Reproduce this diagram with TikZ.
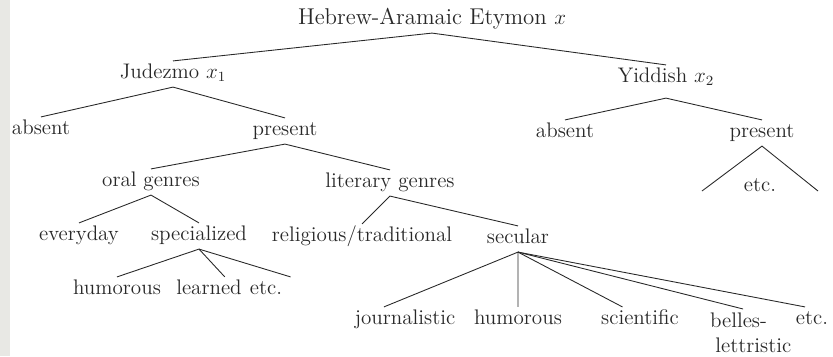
\documentclass[tikz,border=0pt]{standalone}
\usepackage{amsmath,amssymb}
\usepackage{xcolor}
\usepackage{tikz}
\usetikzlibrary{positioning,calc}
\definecolor{ink}{RGB}{40,40,40}
\definecolor{scan}{RGB}{232,232,228}

\begin{document}
\begin{tikzpicture}[x=0.02cm,y=-0.02cm,
  every node/.style={font=\fontsize{12}{14}\selectfont,text=ink,inner xsep=1pt,inner ysep=2pt,text height=8pt,text depth=2.5pt},
  branch/.style={draw=ink,line width=0.5pt}]
\useasboundingbox (0,0) rectangle (833,356);
\fill[scan] (0,0) rectangle (10,356);
% levels of the tree
\node[font=\fontsize{13}{15}\selectfont] (root) at (432,20) {Hebrew-Aramaic Etymon $x$};
\node (jud) at (173,74) {Judezmo $x_1$};
\node (yid) at (666,78) {Yiddish $x_2$};
\node (jabs) at (41,130) {absent};
\node (jpres) at (285,131) {present};
\node (yabs) at (565,133) {absent};
\node (ypres) at (762,133) {present};
\node (yetc) at (760,187) {etc.};
\coordinate (yl) at (702,191);
\coordinate (yr) at (818,191);
\node (oral) at (151,182) {oral genres};
\node (lit) at (390,183) {literary genres};
\node (every) at (79,236) {everyday};
\node (spec) at (199,236) {specialized};
\node (relig) at (362,237) {religious/traditional};
\node (sec) at (518,239) {secular};
\node (hum) at (117,290) {humorous};
\node (lrn) at (209,290) {learned};
\node (setc) at (266,290) {etc.};
\node (jour) at (405,320) {journalistic};
\node (shum) at (518,320) {humorous};
\node (sci) at (640,320) {scientific};
\node[anchor=north west,align=left,text height=,text depth=] (bel) at (708,309) {belles-\\\hspace{3pt}lettristic};
\node (secetc) at (812,320) {etc.};
% branches
\draw[branch] (jud.north) -- (root.south) -- (yid.north);
\draw[branch] (jabs.north) -- (jud.south) -- (jpres.north);
\draw[branch] (yabs.north) -- ([yshift=-4]yid.south) -- (ypres.north);
\draw[branch] (yl) -- (ypres.south) -- (yr);
\draw[branch] (oral.north) -- (jpres.south) -- (lit.north);
\draw[branch] (every.north) -- (oral.south) -- (spec.north);
\draw[branch] (relig.north) -- (lit.south) -- (sec.north);
\draw[branch] (hum.north) -- (spec.south) -- ([xshift=9]lrn.north);
\draw[branch] (spec.south) -- ([xshift=14]setc.north);
\draw[branch] ([xshift=-12]jour.north) -- (sec.south) -- (shum.north);
\draw[branch] (sec.south) -- ([xshift=-10]sci.north);
\draw[branch] (sec.south) -- ([xshift=20]bel.north west);
\draw[branch] (sec.south) -- ([xshift=-4]secetc.north);
\end{tikzpicture}
\end{document}
